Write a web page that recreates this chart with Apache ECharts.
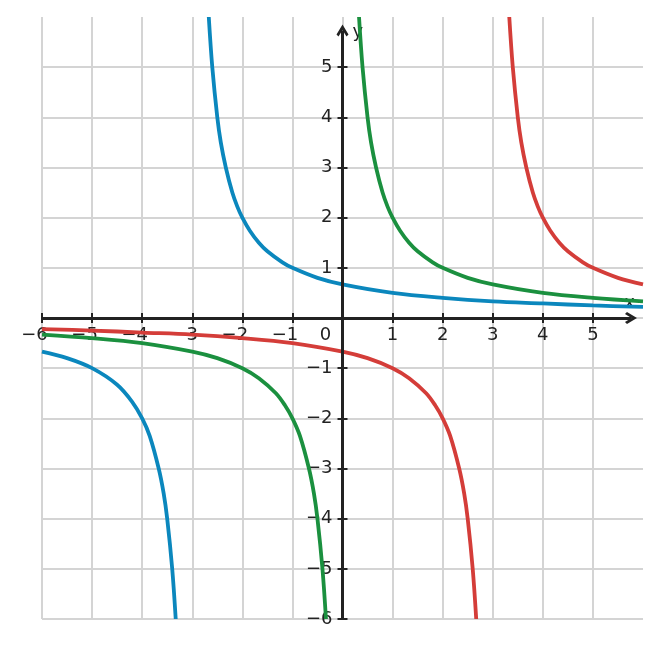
<!DOCTYPE html>
<html>
<head>
<meta charset="utf-8">
<script src="https://cdn.jsdelivr.net/npm/echarts@6/dist/echarts.min.js"></script>
<style>
  html, body { margin: 0; padding: 0; background: #fff; }
  #chart { width: 661px; height: 648px; }
</style>
</head>
<body>
<div id="chart"></div>
<script>
// axis range and tick positions (no tick at the arrow end)
var axisMin = -6
var axisMax = 6
var step = 1
var tickValues = [-6, -5, -4, -3, -2, -1, 0, 1, 2, 3, 4, 5]

// y = 2/(x+3)
var blueLeftX = [-6, -5.5, -5, -4.5, -4.2, -4, -3.85, -3.67, -3.57, -3.5, -3.4, -3.33]
var blueLeftY = [-0.67, -0.8, -1, -1.33, -1.67, -2, -2.35, -3, -3.5, -4, -5, -6]
var blueRightX = [-2.67, -2.6, -2.5, -2.43, -2.33, -2.2, -2.1, -2, -1.85, -1.67, -1.5, -1.2, -1, -0.5, 0, 1, 2, 3, 4, 5, 6]
var blueRightY = [6, 5, 4, 3.5, 3, 2.5, 2.22, 2, 1.74, 1.5, 1.33, 1.11, 1, 0.8, 0.67, 0.5, 0.4, 0.33, 0.29, 0.25, 0.22]

// y = 2/x
var greenLeftX = [-6, -5, -4, -3, -2.5, -2, -1.67, -1.33, -1.15, -1, -0.85, -0.67, -0.57, -0.5, -0.4, -0.33]
var greenLeftY = [-0.33, -0.4, -0.5, -0.67, -0.8, -1, -1.2, -1.5, -1.74, -2, -2.35, -3, -3.5, -4, -5, -6]
var greenRightX = [0.33, 0.4, 0.5, 0.57, 0.67, 0.8, 0.9, 1, 1.15, 1.33, 1.5, 1.8, 2, 2.5, 3, 4, 5, 6]
var greenRightY = [6, 5, 4, 3.5, 3, 2.5, 2.22, 2, 1.74, 1.5, 1.33, 1.11, 1, 0.8, 0.67, 0.5, 0.4, 0.33]

// y = 2/(x-3)
var redLeftX = [-6, -5, -4, -3, -2, -1, 0, 0.5, 1, 1.33, 1.67, 1.85, 2, 2.15, 2.33, 2.43, 2.5, 2.6, 2.67]
var redLeftY = [-0.22, -0.25, -0.29, -0.33, -0.4, -0.5, -0.67, -0.8, -1, -1.2, -1.5, -1.74, -2, -2.35, -3, -3.5, -4, -5, -6]
var redRightX = [3.33, 3.4, 3.5, 3.57, 3.67, 3.8, 3.9, 4, 4.15, 4.33, 4.5, 4.8, 5, 5.5, 6]
var redRightY = [6, 5, 4, 3.5, 3, 2.5, 2.22, 2, 1.74, 1.5, 1.33, 1.11, 1, 0.8, 0.67]

var BLUE = '#0b87bd'
var GREEN = '#1b903f'
var RED = '#d43d39'
var INK = '#222222'
var FONT = 'DejaVu Sans'

// grid box
var gridLeft = 42
var gridRight = 18
var gridTop = 17
var gridBottom = 29
var plotW = 661 - gridLeft - gridRight
var plotH = 648 - gridTop - gridBottom

// open arrow head, pointing up, tip 6px ahead of centre
var chevron = 'path://M6,0 L12,10 L10,12 L6,5.5 L2,12 L0,10 Z'

function pairs(xs, ys) {
  return xs.map(function (x, i) { return [x, ys[i]] })
}

function curve(xs, ys, color) {
  return {
    type: 'line',
    data: pairs(xs, ys),
    smooth: 0.35,
    showSymbol: false,
    silent: true,
    z: 3,
    lineStyle: { color: color, width: 3.8 },
  }
}

function minus(v) {
  return v < 0 ? '\u2212' + Math.abs(v) : String(v)
}

var chart = echarts.init(document.getElementById('chart'))

// axes are shifted into the middle with offset; the visible axis lines come from markLine
var baseAxis = {
  type: 'value',
  min: axisMin,
  max: axisMax,
  interval: step,
  axisLine: { show: false, onZero: false },
  axisTick: { show: true, length: 5, customValues: tickValues, lineStyle: { color: INK, width: 2 } },
}

var option = {
  animation: false,
  grid: { left: gridLeft, right: gridRight, top: gridTop, bottom: gridBottom },
  xAxis: [
    Object.assign({}, baseAxis, {
      position: 'bottom',
      offset: -plotH / 2,
      name: 'x',
      nameLocation: 'end',
      nameGap: -8,
      nameTextStyle: { fontFamily: FONT, fontSize: 18, color: INK, align: 'right', verticalAlign: 'bottom', padding: [0, 0, 6, 0] },
      splitLine: { show: true, lineStyle: { color: '#d4d4d4', width: 2 } },
      axisLabel: {
        margin: 8,
        fontFamily: FONT,
        fontSize: 18,
        color: INK,
        customValues: tickValues,
        formatter: function (v) {
          if (v === 0) return '{n|0}{z| }'
          if (v < 0) return '{n|' + minus(v) + '}{p| }'
          return '{n|' + v + '}'
        },
        rich: {
          n: { fontFamily: FONT, fontSize: 18, color: INK },
          p: { width: 15, fontSize: 18 },
          z: { width: 34, fontSize: 18 },
        },
      },
    }),
    Object.assign({}, baseAxis, {
      position: 'top',
      offset: -plotH / 2,
      axisLabel: { show: false },
      splitLine: { show: false },
    }),
  ],
  yAxis: [
    Object.assign({}, baseAxis, {
      position: 'left',
      offset: -plotW / 2,
      name: 'y',
      nameLocation: 'end',
      nameGap: -6,
      nameTextStyle: { fontFamily: FONT, fontSize: 18, color: INK, align: 'left', verticalAlign: 'top', padding: [0, 0, 0, 10] },
      splitLine: { show: true, lineStyle: { color: '#d4d4d4', width: 2 } },
      axisLabel: {
        margin: 10,
        fontFamily: FONT,
        fontSize: 18,
        color: INK,
        customValues: tickValues,
        formatter: function (v) { return v === 0 ? '' : minus(v) },
      },
    }),
    Object.assign({}, baseAxis, {
      position: 'right',
      offset: -plotW / 2,
      axisLabel: { show: false },
      splitLine: { show: false },
    }),
  ],
  series: [
    {
      type: 'line',
      data: [],
      silent: true,
      z: 2,
      markLine: {
        silent: true,
        animation: false,
        symbol: ['none', chevron],
        symbolSize: 12,
        label: { show: false },
        lineStyle: { type: 'solid', color: INK, width: 3 },
        emphasis: { disabled: true },
        data: [
          [{ coord: [axisMin, 0] }, { coord: [5.76, 0] }],
          [{ coord: [0, axisMin] }, { coord: [0, 5.73] }],
        ],
      },
    },
    curve(blueLeftX, blueLeftY, BLUE),
    curve(blueRightX, blueRightY, BLUE),
    curve(greenLeftX, greenLeftY, GREEN),
    curve(greenRightX, greenRightY, GREEN),
    curve(redLeftX, redLeftY, RED),
    curve(redRightX, redRightY, RED),
  ],
}

chart.setOption(option)
</script>
</body>
</html>
